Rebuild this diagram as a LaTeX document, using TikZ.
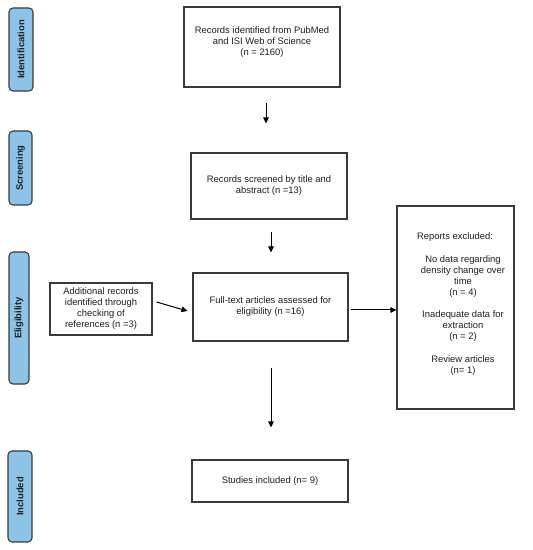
\documentclass[tikz,border=0pt]{standalone}
\usepackage{fontspec}
\setmainfont{Liberation Sans}
\usetikzlibrary{arrows.meta}
\definecolor{pill}{HTML}{8EC3E8}
\definecolor{edge}{HTML}{3A3A3A}
\definecolor{ink}{HTML}{1E1E1E}
\tikzset{
  box/.style={draw=edge, line width=1.1pt, fill=white, inner sep=2pt, align=center,
              text=ink, font=\fontsize{9.4}{11}\selectfont},
  txt/.style={inner sep=0pt, align=center, text=ink, font=\fontsize{9.4}{11}\selectfont},
  pillbox/.style={draw=edge, line width=1.1pt, fill=pill, rounded corners=4pt},
  pilltxt/.style={rotate=90, inner sep=0pt, text=ink, font=\fontsize{9.4}{11}\selectfont\bfseries},
  arr/.style={draw=black, line width=1pt, -{Triangle[length=6pt,width=5.5pt]}}
}
\begin{document}
\begin{tikzpicture}[x=1pt,y=1pt]
\useasboundingbox (0,0) rectangle (533,550);
\fill[white] (0,0) rectangle (533,550);
% phase pills
\node[pillbox, minimum width=24pt, minimum height=83pt] (p1) at (21,500.5) {};
\node[pilltxt] (p1t) at (p1.center) {Identification};
\node[pillbox, minimum width=23pt, minimum height=74pt] (p2) at (20.5,382) {};
\node[pilltxt] (p2t) at (p2.center) {Screening};
\node[pillbox, minimum width=20pt, minimum height=132pt] (p3) at (19,232) {};
\node[pilltxt] (p3t) at (p3.center) {Eligibility};
\node[pillbox, minimum width=24pt, minimum height=91pt] (p4) at (20,53.5) {};
\node[pilltxt] (p4t) at (p4.center) {Included};
% boxes
\node[box, minimum width=156pt, minimum height=80pt] (b1) at (262,503) {};
\node[txt] (b1t) at (262,508) {Records identified from PubMed\\and ISI Web of Science\\(n = 2160)};
\node[box, minimum width=156pt, minimum height=66pt] (b2) at (269,364) {Records screened by title and\\abstract (n =13)};
\node[box, minimum width=155pt, minimum height=68pt] (b3) at (270.5,243) {Full-text articles assessed for\\eligibility (n =16)};
\node[box, minimum width=102pt, minimum height=52pt] (add) at (101,241) {Additional records\\identified through\\checking of\\references (n =3)};
\node[box, minimum width=117pt, minimum height=203pt] (excl) at (455.5,242.5) {};
\node[txt] (exh) at (455,313) {Reports excluded:};
\node[txt, anchor=north] (exb) at (463,295) {No data regarding\\density change over\\time\\(n = 4)\\[11.5pt]Inadequate data for\\extraction\\(n = 2)\\[11.5pt]Review articles\\(n= 1)};
\node[box, minimum width=156pt, minimum height=42pt] (b4) at (270,69) {Studies included (n= 9)};
% connectors
\draw[arr, shorten <=15pt, shorten >=29pt] ([xshift=4pt]b1.south) -- ([xshift=-3pt]b2.north);
\draw[arr, shorten <=12pt, shorten >=20pt] ([xshift=2pt]b2.south) -- ([xshift=0.5pt]b3.north);
\draw[arr, shorten <=26pt, shorten >=32pt] ([xshift=0.5pt]b3.south) -- ([xshift=1pt]b4.north);
\draw[arr] ([shift={(4pt,7pt)}]add.east) -- ([shift={(-5pt,-4pt)}]b3.west);
\draw[arr] ([shift={(2pt,-3pt)}]b3.east) -- ([yshift=-2.5pt]excl.west);
\end{tikzpicture}
\end{document}
